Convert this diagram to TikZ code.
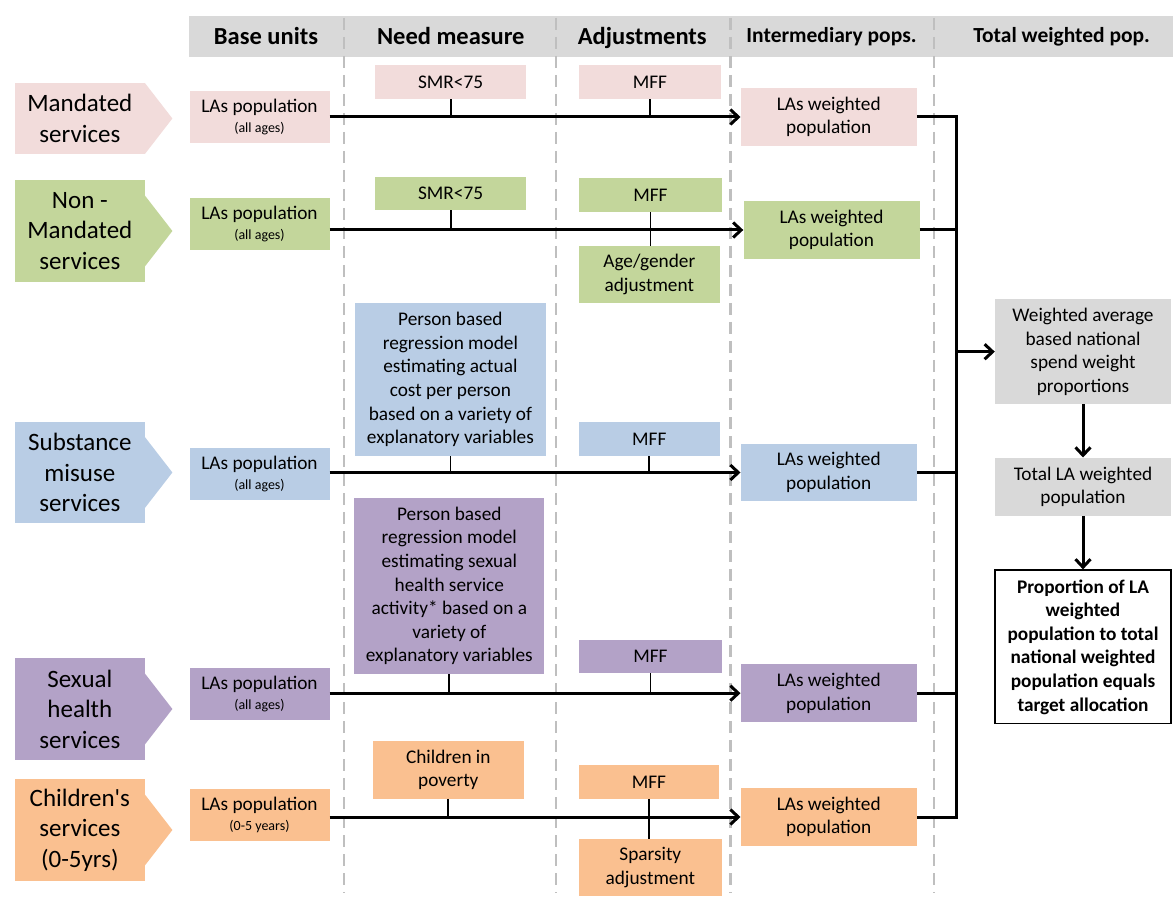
\documentclass[tikz,border=0pt]{standalone}
\usepackage{fontspec}
\setmainfont{Carlito}
\usetikzlibrary{positioning,calc,arrows.meta}

\definecolor{pinkF}{HTML}{F2DCDB}
\definecolor{greenF}{HTML}{C3D69B}
\definecolor{blueF}{HTML}{B9CDE5}
\definecolor{purpleF}{HTML}{B3A2C7}
\definecolor{orangeF}{HTML}{FAC090}
\definecolor{greyF}{HTML}{D9D9D9}
\definecolor{dashF}{HTML}{BFBFBF}

\newcommand{\boxfont}{\fontsize{19.3pt}{23.6pt}\selectfont}
\newcommand{\svcfont}{\fontsize{25pt}{30.5pt}\selectfont}
\newcommand{\agefont}{\fontsize{14pt}{15pt}\selectfont}
\newcommand{\hdrfont}{\fontsize{24.5pt}{29pt}\selectfont\bfseries}
\newcommand{\hdrsmall}{\fontsize{21.5pt}{26pt}\selectfont\bfseries}

\begin{document}
\begin{tikzpicture}[x=1pt, y=-1pt,
  box/.style={rectangle, inner sep=0pt, align=center, font=\boxfont},
  svc/.style={rectangle, inner sep=0pt, align=center, font=\svcfont, minimum width=129.7pt},
  base/.style={box, minimum width=140pt, minimum height=52pt},
  inter/.style={box, minimum width=176pt, minimum height=57.7pt},
  hdr/.style={inner sep=0pt, anchor=base},
  flow/.style={line width=3pt, -{Straight Barb[length=8pt,width=15pt]}},
  bar/.style={line width=3pt},
  tick/.style={line width=1.8pt},
  divider/.style={dashF, line width=2.2pt, dash pattern=on 12pt off 7pt}]
  \useasboundingbox (0,0) rectangle (1173,901);

  % column headers
  \fill[greyF] (189.4,16) rectangle (1173,57);
  \foreach \x in {343.7,555.7,730.5,934}
    \draw[divider] (\x,18) -- (\x,893);
  \node[hdr, font=\hdrfont]  (h1) at (266,44.3)   {Base units};
  \node[hdr, font=\hdrfont]  (h2) at (450.8,44.3) {Need measure};
  \node[hdr, font=\hdrfont]  (h3) at (642.3,44.3) {Adjustments};
  \node[hdr, font=\hdrsmall] (h4) at (831.5,43)   {Intermediary pops.};
  \node[hdr, font=\hdrsmall] (h5) at (1061.6,43)  {Total weighted pop.};

  % services
  \node[svc, fill=pinkF,   minimum height=71pt]  (s1) at (79.85,118.5) {Mandated\\services};
  \node[svc, fill=greenF,  minimum height=102pt] (s2) at (79.85,231)   {Non -\\Mandated\\services};
  \node[svc, fill=blueF,   minimum height=101pt] (s3) at (79.85,472.5) {Substance\\misuse\\services};
  \node[svc, fill=purpleF, minimum height=102pt] (s4) at (79.85,709)   {Sexual\\health\\services};
  \node[svc, fill=orangeF, minimum height=102pt] (s5) at (79.85,830)   {Children\textquotesingle s\\services\\(0-5yrs)};
  \fill[pinkF]   ($(s1.east)+(0,-35.5)$) -- ++(27.5,35.5) -- ++(-27.5,35.5) -- cycle;
  \fill[greenF]  ($(s2.east)+(0,-35.5)$) -- ++(27.5,35.5) -- ++(-27.5,35.5) -- cycle;
  \fill[blueF]   ($(s3.east)+(0,-35.5)$) -- ++(27.5,35.5) -- ++(-27.5,35.5) -- cycle;
  \fill[purpleF] ($(s4.east)+(0,-35.5)$) -- ++(27.5,35.5) -- ++(-27.5,35.5) -- cycle;
  \fill[orangeF] ($(s5.east)+(0,-35.5)$) -- ++(27.5,35.5) -- ++(-27.5,35.5) -- cycle;

  % base units
  \node[base, fill=pinkF]   (b1) at (259.5,117)   {LAs population\\[-4pt]{\agefont (all ages)}};
  \node[base, fill=greenF]  (b2) at (259.5,224.3) {LAs population\\[-4pt]{\agefont (all ages)}};
  \node[base, fill=blueF]   (b3) at (259.5,474)   {LAs population\\[-4pt]{\agefont (all ages)}};
  \node[base, fill=purpleF] (b4) at (259.5,694)   {LAs population\\[-4pt]{\agefont (all ages)}};
  \node[base, fill=orangeF] (b5) at (259.5,815)   {LAs population\\[-4pt]{\agefont (0-5 years)}};

  % need measures
  \node[box, fill=pinkF,   minimum width=150.4pt, minimum height=34pt]    (n1) at (450.6,82)    {SMR<75};
  \node[box, fill=greenF,  minimum width=150.4pt, minimum height=33.5pt]  (n2) at (450.6,193.4) {SMR<75};
  \node[box, fill=blueF,   minimum width=190.7pt, minimum height=153pt]   (n3) at (450.4,379.5)
    {Person based\\regression model\\estimating actual\\cost per person\\based on a variety of\\explanatory variables};
  \node[box, fill=purpleF, minimum width=189.8pt, minimum height=176.3pt] (n4) at (449.3,585.9)
    {Person based\\regression model\\estimating sexual\\health service\\activity* based on a\\variety of\\explanatory variables};
  \node[box, fill=orangeF, minimum width=150.5pt, minimum height=57.7pt]  (n5) at (448.3,769.9) {Children in\\poverty};

  % adjustments
  \node[box, fill=pinkF,   minimum width=142pt,   minimum height=34pt]   (a1)  at (650,82)    {MFF};
  \node[box, fill=greenF,  minimum width=142.8pt, minimum height=34pt]   (a2)  at (650.4,195) {MFF};
  \node[box, fill=greenF,  minimum width=140.6pt, minimum height=57pt]   (a2b) at (649.3,274.5) {Age/gender\\adjustment};
  \node[box, fill=blueF,   minimum width=140.6pt, minimum height=34pt]   (a3)  at (649.3,439) {MFF};
  \node[box, fill=purpleF, minimum width=142.8pt, minimum height=33pt]   (a4)  at (650.4,656.5) {MFF};
  \node[box, fill=orangeF, minimum width=139.8pt, minimum height=33.7pt] (a5)  at (648.9,781.9) {MFF};
  \node[box, fill=orangeF, minimum width=142.5pt, minimum height=57pt]   (a5b) at (650.3,867.5) {Sparsity\\adjustment};

  % intermediary pops
  \node[inter, fill=pinkF]   (i1) at (828.7,117)   {LAs weighted\\population};
  \node[inter, fill=greenF]  (i2) at (831.5,230)   {LAs weighted\\population};
  \node[inter, fill=blueF]   (i3) at (828.7,472.5) {LAs weighted\\population};
  \node[inter, fill=purpleF] (i4) at (828.7,693.2) {LAs weighted\\population};
  \node[inter, fill=orangeF] (i5) at (828.7,817)   {LAs weighted\\population};

  % total weighted pop
  \node[box, fill=greyF, minimum width=176pt, minimum height=104.7pt] (w1) at (1083,351.7)
    {Weighted average\\based national\\spend weight\\proportions};
  \node[box, fill=greyF, minimum width=176pt, minimum height=58pt] (w2) at (1083,486.7)
    {Total LA weighted\\population};
  \node[box, draw, line width=1.3pt, fill=white, font=\boxfont\bfseries, minimum width=176pt, minimum height=153.7pt] (w3) at (1083,646.9)
    {Proportion of LA\\weighted\\population to total\\national weighted\\population equals\\target allocation};

  % rows
  \draw[flow] (b1.east |- i1.west) -- (i1.west);
  \draw[flow] (b2.east |- i2.west) -- (i2.west);
  \draw[flow] (b3.east |- i3.west) -- (i3.west);
  \draw[flow] (b4.east |- i4.west) -- (i4.west);
  \draw[flow] (b5.east |- i5.west) -- (i5.west);
  \draw[tick] (n1.south) -- (n1.south |- i1.west);
  \draw[tick] (n2.south) -- (n2.south |- i2.west);
  \draw[tick] (n3.south) -- (n3.south |- i3.west);
  \draw[tick] (n4.south) -- (n4.south |- i4.west);
  \draw[tick] (n5.south) -- (n5.south |- i5.west);
  \draw[tick] (a1.south) -- (a1.south |- i1.west);
  \draw[tick] (a2.south) -- (a2.south |- a2b.north);
  \draw[tick] (a3.south) -- (a3.south |- i3.west);
  \draw[tick] (a4.south) -- (a4.south |- i4.west);
  \draw[tick] (a5.south) -- (a5.south |- a5b.north);

  % collect
  \coordinate (bus) at (956.3,117);
  \draw[bar] (i1.east) -| (i5.east -| bus) -- (i5.east);
  \draw[bar] (i2.east) -- (i2.east -| bus);
  \draw[bar] (i3.east) -- (i3.east -| bus);
  \draw[bar] (i4.east) -- (i4.east -| bus);
  \draw[flow] (w1.west -| bus) -- (w1.west);
  \draw[flow] (w1) -- (w2);
  \draw[flow] (w2) -- (w3);
\end{tikzpicture}
\end{document}
